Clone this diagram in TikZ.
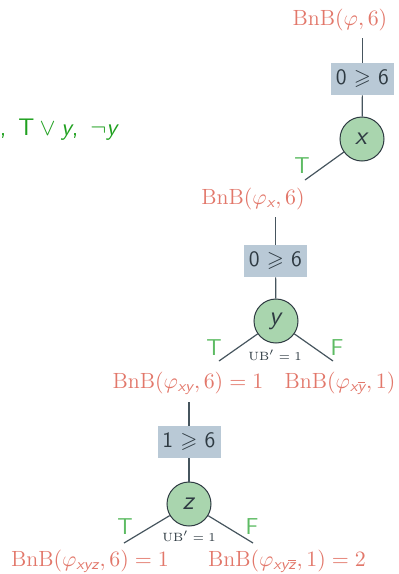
\documentclass[tikz,border=0pt]{standalone}
\usepackage{amsmath,amssymb}
\usepackage{xcolor}
\usepackage{tikz}
\usetikzlibrary{positioning,calc}
\definecolor{ink}{HTML}{2E3A42}
\definecolor{cEdge}{HTML}{46555E}
\definecolor{cBnB}{HTML}{E2776A}
\definecolor{cLit}{HTML}{5DBB63}
\definecolor{cClause}{HTML}{1FA01F}
\definecolor{cTest}{HTML}{B9C9D6}
\definecolor{cVar}{HTML}{A9D5AE}
\newcommand{\sv}[1]{\textsf{\itshape #1}}
\tikzset{
  bnb/.style = {font=\fontsize{11}{13}\selectfont, text=cBnB, inner sep=3.5pt},
  tst/.style = {rectangle, fill=cTest, text=ink, font=\sffamily\fontsize{11}{13}\selectfont,
                minimum width=31.5pt, minimum height=16pt, inner sep=0pt},
  var/.style = {circle, fill=cVar, draw=ink, line width=0.5pt, minimum size=22pt, inner sep=0pt,
                text=ink, font=\fontsize{13}{15}\selectfont},
  lit/.style = {font=\sffamily\fontsize{11.5}{13}\selectfont, text=cLit, inner sep=0pt},
  ub/.style  = {font=\fontsize{6}{7}\selectfont, text=ink, inner sep=0pt},
  cls/.style = {font=\sffamily\fontsize{12}{14}\selectfont, text=cClause, inner sep=0pt},
  br/.style  = {draw=cEdge, line width=0.6pt},
}
\begin{document}
\begin{tikzpicture}[x=0.5pt, y=-0.5pt]
  \useasboundingbox (0,0) rectangle (399,574);

  % clauses (cut off at the left)
  \node[cls, anchor=east] (cl) at (117.5,130)
    {,\hspace{0.5em}$\mathsf{T}\vee\sv{y}$,\hspace{0.5em}$\neg\sv{y}$};

  % root: branch on x
  \node[bnb] (r) at (340,20) {BnB$(\varphi,6)$};
  \node[tst] (t0) at (362.5,79) {0 $\geqslant$ 6};
  \node[var] (x) at (362,139) {\sv{x}};
  \draw[br] (t0) -- (t0 |- r.south);
  \draw[br] (t0) -- (x);
  \coordinate (xT) at (305,180);
  \draw[br] (x) -- (xT);
  \node[lit] (xTl) at (302,166) {T};

  % after x = T: branch on y
  \node[bnb] (rx) at (253,199) {BnB$(\varphi_{\sv{x}},6)$};
  \node[tst] (t1) at (275.5,261) {0 $\geqslant$ 6};
  \node[var] (y) at (276,321) {\sv{y}};
  \draw[br] (t1) -- (t1 |- rx.south);
  \draw[br] (t1) -- (y);
  \coordinate (yT) at (219,361);
  \coordinate (yF) at (333,361);
  \draw[br] (y) -- (yT);
  \draw[br] (y) -- (yF);
  \node[lit] (yTl) at (214,348) {T};
  \node[lit] (yFl) at (337,348) {F};
  \node[ub] (yub) at (275,355) {$\mathrm{UB}'=1$};
  \node[bnb] (rxy) at (188,383) {BnB$(\varphi_{\sv{xy}},6)=1$};
  \node[bnb] (rxny) at (340,383) {BnB$(\varphi_{\sv{x}\overline{\sv{y}}},1)$};

  % after y = T: branch on z
  \node[tst] (t2) at (189,442) {1 $\geqslant$ 6};
  \node[var] (z) at (189,504) {\sv{z}};
  \draw[br] (t2) -- (t2 |- rxy.south);
  \draw[br] (t2) -- (z);
  \coordinate (zT) at (124,543);
  \coordinate (zF) at (253,543);
  \draw[br] (z) -- (zT);
  \draw[br] (z) -- (zF);
  \node[lit] (zTl) at (125,527) {T};
  \node[lit] (zFl) at (252,527) {F};
  \node[ub] (zub) at (189,536) {$\mathrm{UB}'=1$};
  \node[bnb] (rxyz) at (90,561) {BnB$(\varphi_{\sv{xyz}},6)=1$};
  \node[bnb] (rxynz) at (287,561) {BnB$(\varphi_{\sv{xy}\overline{\sv{z}}},1)=2$};
\end{tikzpicture}
\end{document}
